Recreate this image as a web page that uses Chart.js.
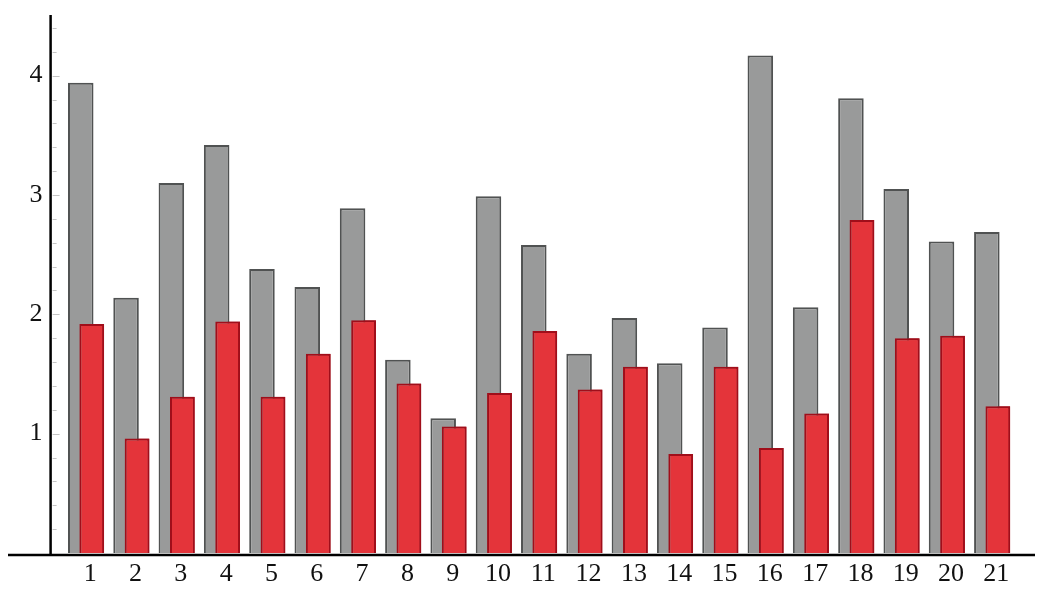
<!DOCTYPE html>
<html>
<head>
<meta charset="utf-8">
<script src="https://cdn.jsdelivr.net/npm/chart.js@4/dist/chart.umd.min.js"></script>
<style>
  html, body { margin: 0; padding: 0; background: #ffffff; }
  #wrap { width: 1050px; height: 607px; position: relative; }
</style>
</head>
<body>
<div id="wrap"><canvas id="c" width="1050" height="607"></canvas></div>
<script>
// ---- data ----
const categories = ['1','2','3','4','5','6','7','8','9','10','11','12','13','14','15','16','17','18','19','20','21'];
const greyValues = [3.94, 2.14, 3.10, 3.42, 2.38, 2.23, 2.89, 1.62, 1.13, 2.99, 2.58, 1.67, 1.97, 1.59, 1.89, 4.17, 2.06, 3.81, 3.05, 2.61, 2.69];
const redValues  = [1.92, 0.96, 1.31, 1.94, 1.31, 1.67, 1.95, 1.42, 1.06, 1.34, 1.86, 1.37, 1.56, 0.83, 1.56, 0.88, 1.17, 2.79, 1.80, 1.82, 1.23];
const yTickLabels = [1, 2, 3, 4];
const yMax = 4.5;
const minorStep = 0.2;

// plugin: axis lines, minor ticks, red bars on top
const axesPlugin = {
  id: 'axesPlugin',
  afterDatasetsDraw(chart) {
    const ctx = chart.ctx;
    const ca = chart.chartArea;
    // red bars above grey bars
    const redMeta = chart.getDatasetMeta(1);
    ctx.save();
    redMeta.data.forEach(el => el.draw(ctx));
    ctx.restore();

    const y = chart.scales.y;
    const axisX = ca.left - 13;
    // minor ticks
    ctx.save();
    ctx.strokeStyle = '#c4c4c4';
    ctx.lineWidth = 1;
    for (let v = minorStep; v < yMax; v += minorStep) {
      const py = Math.round(y.getPixelForValue(v)) + 0.5;
      const isMajor = Math.abs(v - Math.round(v)) < 1e-6;
      ctx.beginPath();
      ctx.moveTo(axisX + 2, py);
      ctx.lineTo(axisX + (isMajor ? 9 : 6), py);
      ctx.stroke();
    }
    ctx.restore();
    // axis lines
    ctx.save();
    ctx.strokeStyle = '#000000';
    ctx.lineWidth = 2.5;
    ctx.beginPath();
    ctx.moveTo(axisX, y.getPixelForValue(yMax) - 1);
    ctx.lineTo(axisX, ca.bottom + 2);
    ctx.stroke();
    ctx.beginPath();
    ctx.moveTo(8, ca.bottom + 2);
    ctx.lineTo(1035, ca.bottom + 2);
    ctx.stroke();
    ctx.restore();
  }
};

new Chart(document.getElementById('c'), {
  type: 'bar',
  data: {
    labels: categories,
    datasets: [
      {
        label: 'grey',
        data: greyValues,
        backgroundColor: '#999a9a',
        borderColor: '#505252',
        borderWidth: 2,
        borderSkipped: 'start',
        categoryPercentage: 0.486,
        barPercentage: 2.32
      },
      {
        label: 'red',
        data: redValues,
        backgroundColor: '#e4343a',
        borderColor: '#a00e1a',
        borderWidth: 2,
        borderSkipped: 'start',
        categoryPercentage: 0.486,
        barPercentage: 2.25
      }
    ]
  },
  options: {
    responsive: false,
    animation: false,
    devicePixelRatio: 1,
    layout: { padding: { top: 16, right: 35, left: 0, bottom: 0 } },
    plugins: {
      legend: { display: false },
      tooltip: { enabled: false }
    },
    scales: {
      x: {
        offset: true,
        grid: { display: false, drawTicks: false },
        border: { display: false },
        ticks: {
          color: '#111111',
          padding: 6,
          labelOffset: 4,
          maxRotation: 0,
          autoSkip: false,
          font: { family: '"Liberation Serif", "DejaVu Serif", serif', size: 26 }
        },
        afterFit(scale) { scale.height = 54; scale.paddingLeft = 0; scale.paddingRight = 0; }
      },
      y: {
        min: 0,
        max: yMax,
        grid: { display: false, drawTicks: false },
        border: { display: false },
        ticks: {
          stepSize: 1,
          padding: 21,
          color: '#111111',
          font: { family: '"Liberation Serif", "DejaVu Serif", serif', size: 26 },
          callback(v) { return yTickLabels.includes(v) ? String(v) : ''; }
        },
        afterFit(scale) { scale.width = 63.6; scale.paddingTop = 0; scale.paddingBottom = 0; }
      }
    }
  },
  plugins: [axesPlugin]
});
</script>
</body>
</html>
